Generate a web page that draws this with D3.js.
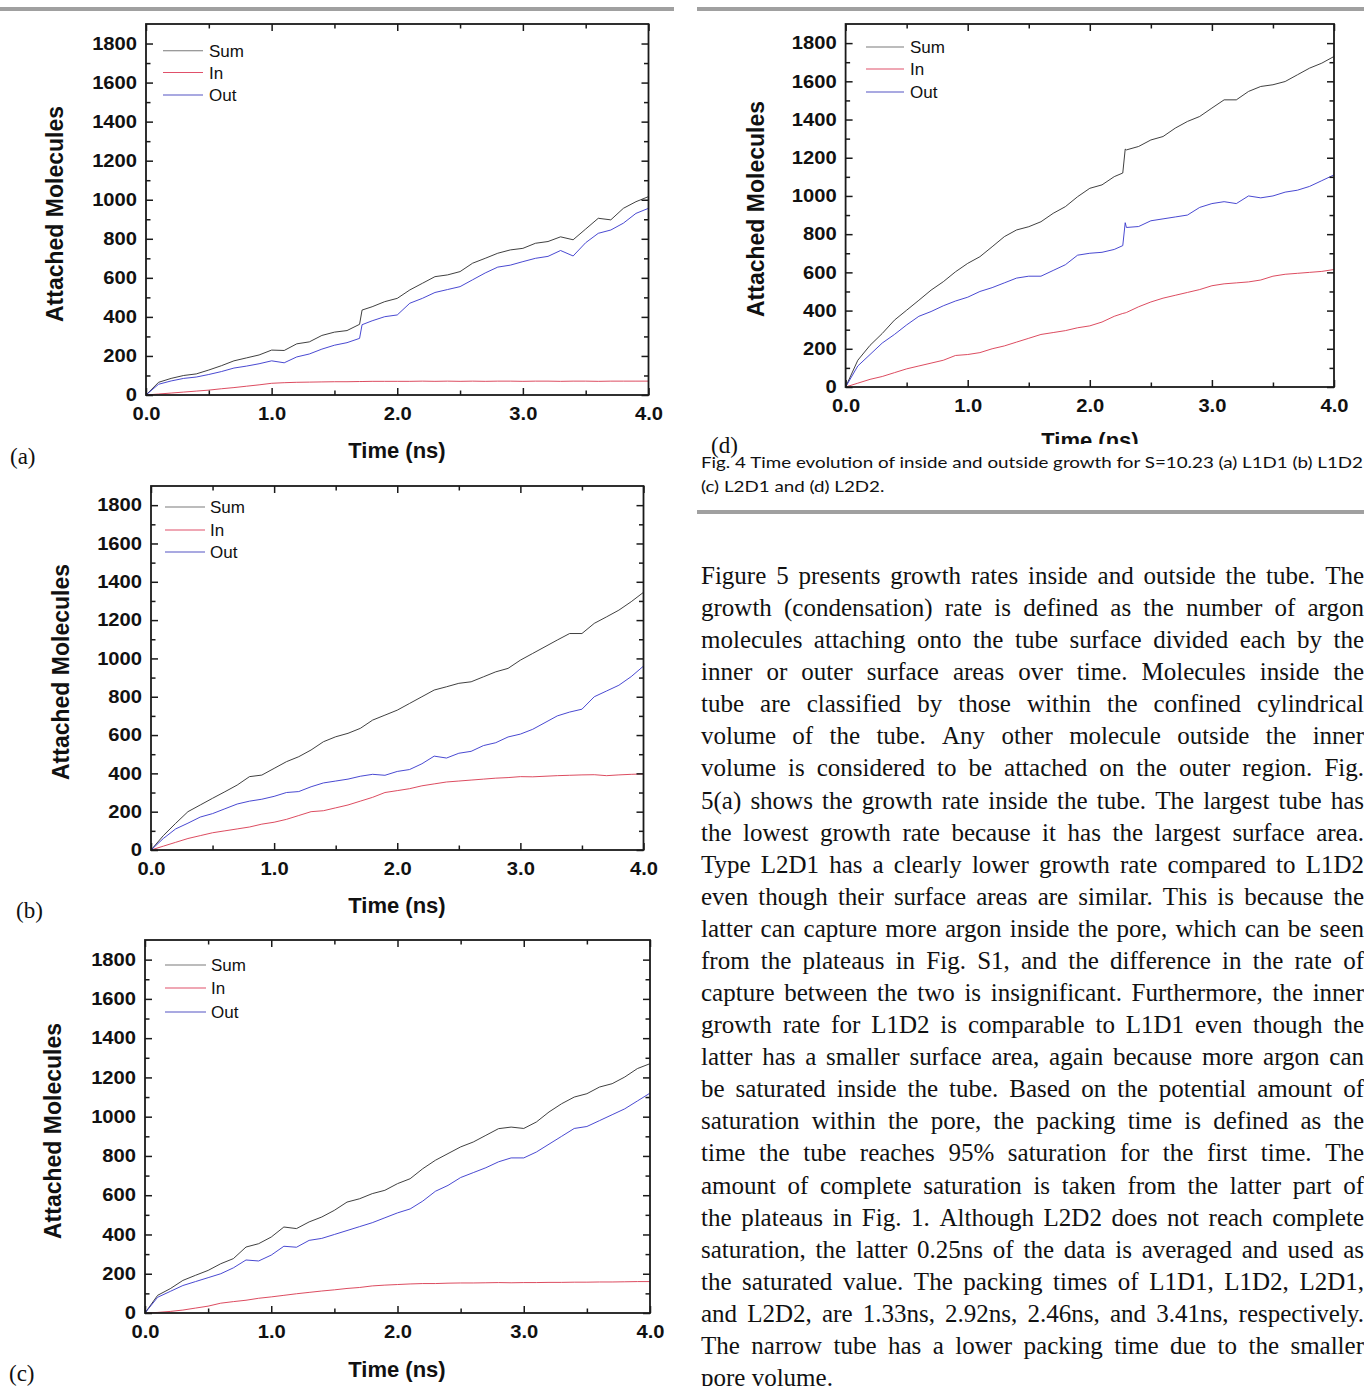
<!DOCTYPE html>
<html><head><meta charset="utf-8">
<script src="https://cdn.jsdelivr.net/npm/d3@7"></script>
<style>body{margin:0;background:#fff;overflow:hidden}svg{display:block}</style>
</head><body>
<svg id="page" width="1364" height="1386"></svg>
<script>
// ---------------- DATA ----------------
const seriesNames = ["Sum", "In", "Out"];
const xTickValues = [0, 1, 2, 3, 4];
const xMinorValues = [0.5, 1.5, 2.5, 3.5];
const yTickValues = [0, 200, 400, 600, 800, 1000, 1200, 1400, 1600, 1800];
const yMinorValues = [100, 300, 500, 700, 900, 1100, 1300, 1500, 1700];

const timeCommon = [0,0.1,0.2,0.3,0.4,0.5,0.6,0.7,0.8,0.9,1.0,1.1,1.2,1.3,1.4,1.5,1.6,1.7,1.8,1.9,2.0,2.1,2.2,2.3,2.4,2.5,2.6,2.7,2.8,2.9,3.0,3.1,3.2,3.3,3.4,3.5,3.6,3.7,3.8,3.9,4.0];

// (a) L1D1
const timeA = [0,0.1,0.2,0.3,0.4,0.5,0.6,0.7,0.8,0.9,1.0,1.1,1.2,1.3,1.4,1.5,1.6,1.7,1.72,1.8,1.9,2.0,2.1,2.2,2.3,2.4,2.5,2.6,2.7,2.8,2.9,3.0,3.1,3.2,3.3,3.4,3.5,3.6,3.7,3.8,3.9,4.0];
const sumA = [0,65,85,100,108,128,150,175,190,205,230,228,262,272,305,322,330,362,435,452,478,495,538,572,606,615,632,675,700,726,743,751,777,786,810,795,850,905,897,956,990,1016];
const inA  = [0,5,10,15,20,25,32,38,45,52,60,63,65,66,67,68,68,69,69,70,70,70,70,71,70,71,70,71,70,71,71,70,71,71,70,71,71,70,71,71,71,71];
const outA = [0,55,72,85,92,105,120,138,148,160,175,165,195,210,235,255,268,290,360,380,401,410,470,495,525,540,555,590,625,655,665,683,700,710,740,712,780,828,845,880,930,956];

// (b) L1D2
const sumB = [0,75,139,200,235,270,304,339,383,391,426,461,487,522,565,591,609,635,678,704,730,765,800,835,852,870,878,904,930,948,991,1026,1061,1096,1130,1130,1183,1217,1252,1296,1345];
const inB  = [0,20,40,60,75,90,100,110,120,135,145,160,180,200,205,220,235,255,275,300,310,320,335,345,355,360,365,370,375,378,383,382,385,388,390,392,393,388,392,395,397];
const outB = [0,60,110,140,172,190,215,240,255,265,280,300,305,330,350,360,370,385,395,390,410,420,450,490,480,505,515,545,560,590,605,630,665,700,720,735,800,830,860,905,960];

// (c) L2D1
const sumC = [0,90,124,166,192,217,251,277,336,353,387,438,430,464,489,523,565,582,608,625,659,684,735,778,812,846,871,905,939,947,940,973,1024,1066,1100,1117,1151,1168,1202,1245,1270];
const inC  = [0,3,8,15,25,35,50,58,65,75,82,90,98,105,112,118,125,130,138,142,145,148,150,150,152,153,153,154,155,154,155,155,156,156,157,157,158,158,159,160,160];
const outC = [0,80,110,140,160,180,200,230,270,265,295,340,335,370,380,400,420,440,460,485,510,530,570,620,650,690,715,740,770,790,790,820,860,900,940,950,980,1010,1040,1080,1120];

// (d) L2D2
const timeD = [0,0.1,0.2,0.3,0.4,0.5,0.6,0.7,0.8,0.9,1.0,1.1,1.2,1.3,1.4,1.5,1.6,1.7,1.8,1.9,2.0,2.1,2.2,2.27,2.29,2.3,2.4,2.5,2.6,2.7,2.8,2.9,3.0,3.1,3.2,3.3,3.4,3.5,3.6,3.7,3.8,3.9,4.0];
const sumD = [0,140,218,280,350,402,454,507,551,603,647,682,734,787,822,839,865,909,944,996,1040,1058,1101,1120,1245,1241,1259,1293,1311,1355,1390,1416,1460,1503,1503,1547,1573,1582,1599,1634,1669,1695,1730];
const inD  = [0,20,40,55,75,95,110,125,140,165,170,180,200,215,235,255,275,285,295,310,320,340,370,385,388,390,420,445,465,480,495,510,530,540,545,550,560,580,590,595,600,605,615];
const outD = [0,110,170,230,275,325,370,395,425,450,470,500,520,545,570,580,580,610,640,690,700,705,720,740,860,835,840,870,880,890,900,940,960,970,960,1000,990,1000,1020,1030,1050,1080,1110];

const captionLines = [
  "Fig. 4 Time evolution of inside and outside growth for S=10.23 (a) L1D1 (b) L1D2",
  "(c) L2D1 and (d) L2D2."
];
const paragraphLines = [
  "Figure 5 presents growth rates inside and outside the tube. The",
  "growth (condensation) rate is defined as the number of argon",
  "molecules attaching onto the tube surface divided each by the",
  "inner or outer surface areas over time. Molecules inside the",
  "tube are classified by those within the confined cylindrical",
  "volume of the tube. Any other molecule outside the inner",
  "volume is considered to be attached on the outer region. Fig.",
  "5(a) shows the growth rate inside the tube. The largest tube has",
  "the lowest growth rate because it has the largest surface area.",
  "Type L2D1 has a clearly lower growth rate compared to L1D2",
  "even though their surface areas are similar. This is because the",
  "latter can capture more argon inside the pore, which can be seen",
  "from the plateaus in Fig. S1, and the difference in the rate of",
  "capture between the two is insignificant. Furthermore, the inner",
  "growth rate for L1D2 is comparable to L1D1 even though the",
  "latter has a smaller surface area, again because more argon can",
  "be saturated inside the tube. Based on the potential amount of",
  "saturation within the pore, the packing time is defined as the",
  "time the tube reaches 95% saturation for the first time. The",
  "amount of complete saturation is taken from the latter part of",
  "the plateaus in Fig. 1. Although L2D2 does not reach complete",
  "saturation, the latter 0.25ns of the data is averaged and used as",
  "the saturated value. The packing times of L1D1, L1D2, L2D1,",
  "and L2D2, are 1.33ns, 2.92ns, 2.46ns, and 3.41ns, respectively.",
  "The narrow tube has a lower packing time due to the smaller",
  "pore volume."
];

// ---------------- LAYOUT / STYLE ----------------
const panels = [
  {key:"a", time:timeA, sum:sumA, inn:inA, out:outA,
   l:146, r:648.5, t:24, b:395, yTitleX:54.5, yTitleY:214, timeX:397, timeY:458,
   leg:{x1:163, x2:203, tx:209, y:[50.7, 72.5, 95]}, tag:{x:10, y:464, text:"(a)"}},
  {key:"b", time:timeCommon, sum:sumB, inn:inB, out:outB,
   l:151, r:643.5, t:486, b:850, yTitleX:61, yTitleY:672, timeX:397, timeY:913,
   leg:{x1:165, x2:205, tx:210, y:[507, 530, 552]}, tag:{x:16, y:918, text:"(b)"}},
  {key:"c", time:timeCommon, sum:sumC, inn:inC, out:outC,
   l:145, r:650, t:940, b:1313, yTitleX:53, yTitleY:1131, timeX:397, timeY:1377,
   leg:{x1:165, x2:206, tx:211, y:[965, 988, 1012]}, tag:{x:9, y:1381, text:"(c)"}},
  {key:"d", time:timeD, sum:sumD, inn:inD, out:outD,
   l:845.6, r:1334, t:24, b:387, yTitleX:756, yTitleY:209, timeX:1090, timeY:448, clipY:444,
   leg:{x1:866, x2:904, tx:910, y:[47, 69, 92]}, tag:{x:711, y:453, text:"(d)"}}
];
const lineColors = {Sum:"#2a2a2a", In:"#d8384e", Out:"#3434cc"};
const legendColors = {Sum:"#7a7a7a", In:"#e0506a", Out:"#5454c4"};
const axisColor = "#1a1a1a";
const labelFont = "'Liberation Sans', Arial, sans-serif";
const tickStretch = 1.12;

const svg = d3.select("#page");
const defs = svg.append("defs");

// gray rules
const rules = [[0, 674, 9], [697, 1364, 9], [697, 1364, 512]];
svg.selectAll("rect.rule").data(rules).join("rect").attr("class","rule")
  .attr("x", d => d[0]).attr("width", d => d[1]-d[0]).attr("y", d => d[2]-2).attr("height", 4)
  .attr("fill", "#a0a0a0");

function drawPanel(p) {
  const x = d3.scaleLinear().domain([0, 4]).range([p.l, p.r]);
  const y = d3.scaleLinear().domain([0, 1900]).range([p.b, p.t]);
  const root = svg.append("g");
  let g = root;
  if (p.clipY) {
    defs.append("clipPath").attr("id", "pc-" + p.key).append("rect")
      .attr("x", 0).attr("y", 0).attr("width", 1364).attr("height", p.clipY);
    g = root.append("g").attr("clip-path", "url(#pc-" + p.key + ")");
  }
  defs.append("clipPath").attr("id", "plot-" + p.key).append("rect")
    .attr("x", p.l).attr("y", p.t).attr("width", p.r - p.l).attr("height", p.b - p.t);

  // series
  const lg = g.append("g").attr("clip-path", "url(#plot-" + p.key + ")");
  const mk = vals => p.time.map((t, i) => [t, vals[i]]);
  const line = d3.line().x(d => x(d[0])).y(d => y(d[1]));
  [["Sum", p.sum], ["In", p.inn], ["Out", p.out]].forEach(([name, vals]) => {
    lg.append("path").datum(mk(vals)).attr("d", line)
      .attr("fill", "none").attr("stroke", lineColors[name]).attr("stroke-width", 0.9)
      .attr("stroke-linejoin", "round");
  });

  // ticks (inward, mirrored)
  const tickStyle = s => { s.select(".domain").remove(); s.selectAll("line").attr("stroke", axisColor).attr("stroke-width", 1.5); };
  const bare = (axis, vals, size, tx, ty) => g.append("g").attr("transform", `translate(${tx},${ty})`)
      .call(axis.tickValues(vals).tickSize(size).tickFormat("")).call(tickStyle);
  bare(d3.axisTop(x), xTickValues, -7, 0, p.t);
  bare(d3.axisTop(x), xMinorValues, -4.5, 0, p.t);
  bare(d3.axisBottom(x), xMinorValues, -4.5, 0, p.b);
  bare(d3.axisRight(y), yTickValues, -7, p.r, 0);
  bare(d3.axisRight(y), yMinorValues, -4.5, p.r, 0);
  bare(d3.axisLeft(y), yMinorValues, -4.5, p.l, 0);

  const xb = g.append("g").attr("transform", `translate(0,${p.b})`)
    .call(d3.axisBottom(x).tickValues(xTickValues).tickSize(-7).tickPadding(12).tickFormat(d3.format(".1f")))
    .call(tickStyle);
  const yl = g.append("g").attr("transform", `translate(${p.l},0)`)
    .call(d3.axisLeft(y).tickValues(yTickValues).tickSize(-7).tickPadding(9).tickFormat(d3.format("d")))
    .call(tickStyle);
  [xb, yl].forEach(a => a.attr("font-family", null).attr("font-size", null)
    .selectAll("text").attr("font-family", labelFont).attr("font-weight", "bold")
    .attr("font-size", 18).attr("fill", "#111")
    .each(function() {
      const w = this.getComputedTextLength();
      d3.select(this).attr("textLength", w * tickStretch).attr("lengthAdjust", "spacingAndGlyphs");
    }));

  // frame
  g.append("rect").attr("x", p.l).attr("y", p.t).attr("width", p.r - p.l).attr("height", p.b - p.t)
    .attr("fill", "none").attr("stroke", axisColor).attr("stroke-width", 1.8);

  // axis titles
  g.append("text").attr("x", p.timeX).attr("y", p.timeY).attr("text-anchor", "middle")
    .attr("font-family", labelFont).attr("font-weight", "bold").attr("font-size", 22)
    .attr("fill", "#111").text("Time (ns)");
  g.append("text").attr("transform", `translate(${p.yTitleX + 8},${p.yTitleY}) rotate(-90)`)
    .attr("text-anchor", "middle").attr("font-family", labelFont).attr("font-weight", "bold")
    .attr("font-size", 23).attr("fill", "#111").text("Attached Molecules");

  // legend
  seriesNames.forEach((name, i) => {
    g.append("line").attr("x1", p.leg.x1).attr("x2", p.leg.x2).attr("y1", p.leg.y[i]).attr("y2", p.leg.y[i])
      .attr("stroke", legendColors[name]).attr("stroke-width", 1.1);
    g.append("text").attr("x", p.leg.tx).attr("y", p.leg.y[i] + 6)
      .attr("font-family", labelFont).attr("font-size", 17).attr("fill", "#111").text(name);
  });

  // panel tag
  root.append("text").attr("x", p.tag.x).attr("y", p.tag.y)
    .attr("font-family", "'Liberation Serif', 'Times New Roman', serif").attr("font-size", 23)
    .attr("fill", "#111").text(p.tag.text);
}
panels.forEach(drawPanel);

// caption
const capFont = "Lato, 'Noto Sans', sans-serif";
const cap = svg.append("g");
const cap1 = cap.append("text").attr("x", 701).attr("y", 468).attr("font-family", capFont)
  .attr("font-size", 15).attr("fill", "#111").text(captionLines[0]);
const nat1 = cap1.node().getComputedTextLength();
const capFactor = 662 / nat1;
cap1.attr("textLength", 662).attr("lengthAdjust", "spacingAndGlyphs");
const cap2 = cap.append("text").attr("x", 701).attr("y", 492).attr("font-family", capFont)
  .attr("font-size", 15).attr("fill", "#111").text(captionLines[1]);
cap2.attr("textLength", cap2.node().getComputedTextLength() * capFactor).attr("lengthAdjust", "spacingAndGlyphs");

// justified paragraph
const para = svg.append("g").attr("font-family", "'Liberation Serif', 'Times New Roman', serif")
  .attr("font-size", 25).attr("fill", "#111");
const paraLeft = 701, paraRight = 1364, paraTop = 584, paraLead = 32.08;
paragraphLines.forEach((ln, i) => {
  const yy = paraTop + i * paraLead;
  const last = i === paragraphLines.length - 1;
  const words = ln.split(" ");
  const nodes = words.map(w => para.append("text").attr("y", yy).text(w));
  const widths = nodes.map(n => n.node().getComputedTextLength());
  const total = d3.sum(widths);
  const spaceW = 25 * 0.25;
  let gap = last ? spaceW : (paraRight - paraLeft - total) / (words.length - 1);
  let scale = 1;
  if (gap < spaceW * 0.6) { scale = (paraRight - paraLeft - spaceW * 0.6 * (words.length - 1)) / total; gap = spaceW * 0.6; }
  let cx = paraLeft;
  nodes.forEach((n, k) => {
    n.attr("x", cx);
    if (scale !== 1) n.attr("textLength", widths[k] * scale).attr("lengthAdjust", "spacingAndGlyphs");
    cx += widths[k] * scale + gap;
  });
});
</script>
</body></html>
